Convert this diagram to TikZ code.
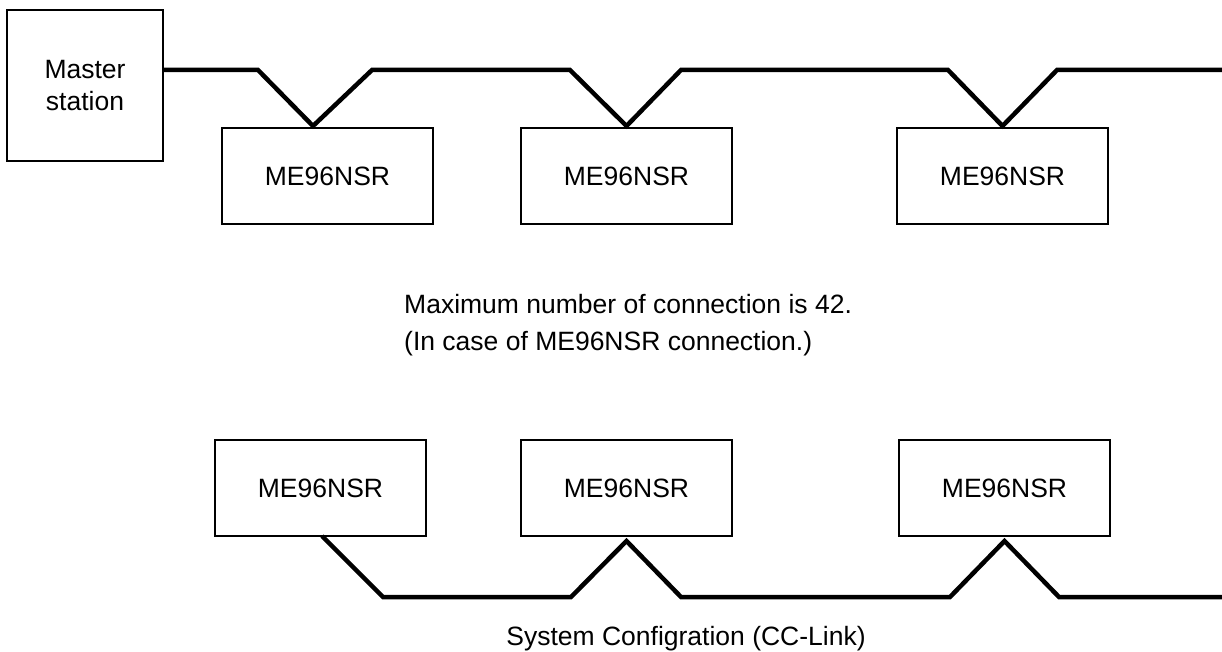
\documentclass[tikz,border=0pt]{standalone}
\usepackage{fontspec}
\setmainfont{Liberation Sans}
\begin{document}
\begin{tikzpicture}[x=1pt,y=-1pt,
  box/.style={draw=black,line width=2pt,inner sep=0pt,minimum width=211pt,minimum height=96pt,
    font=\fontsize{26.5}{32}\selectfont},
  bus/.style={draw=black,line width=4.5pt,line join=miter},
  txt/.style={inner sep=0pt,font=\fontsize{26.5}{37}\selectfont}]
\useasboundingbox (0,0) rectangle (1222,652);
% master station
\node[box,minimum width=156pt,minimum height=151pt,align=center] (ms) at (85,85.5) {Master\\station};
% top stations
\node[box] (b1) at (327.5,176) {ME96NSR};
\node[box] (b2) at (626.5,176) {ME96NSR};
\node[box] (b3) at (1002.5,176) {ME96NSR};
% bottom stations
\node[box] (c1) at (320.5,488) {ME96NSR};
\node[box] (c2) at (626.5,488) {ME96NSR};
\node[box] (c3) at (1004.5,488) {ME96NSR};
% texts
\node[txt,anchor=north west,align=left] (note) at (404,294.5)
  {Maximum number of connection is 42.\\(In case of ME96NSR connection.)};
\node[txt,anchor=base] (cap) at (686,645.5) {System Configration (CC-Link)};
% coordinates
\coordinate (t0) at (ms.east |- 0,70);
\coordinate (tv1) at (313,126);
\coordinate (tv2) at (b2.north |- 0,126);
\coordinate (tv3) at (b3.north |- 0,126);
\coordinate (tend) at (1222,70);
\coordinate (bs) at (322,536);
\coordinate (bp2) at (c2.south |- 0,541);
\coordinate (bp3) at (c3.south |- 0,541);
\coordinate (bend) at (1222,597);
% top bus
\draw[bus] (t0) -- (258,70) -- (tv1) -- (372,70) -- (570,70) -- (tv2) -- (681,70)
  -- (948,70) -- (tv3) -- (1057,70) -- (tend);
% bottom bus
\draw[bus] (bs) -- (383,597) -- (571,597) -- (bp2) -- (681,597) -- (950,597)
  -- (bp3) -- (1059,597) -- (bend);
\end{tikzpicture}
\end{document}
